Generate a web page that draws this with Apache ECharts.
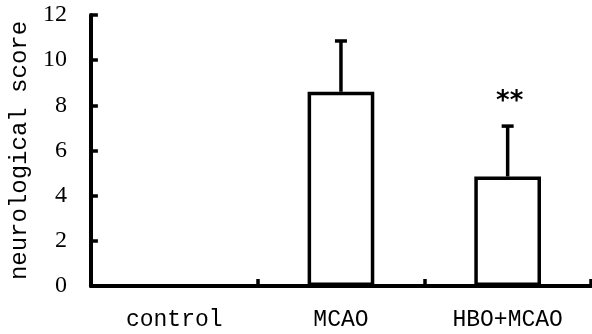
<!DOCTYPE html>
<html>
<head>
<meta charset="utf-8">
<script src="https://cdn.jsdelivr.net/npm/echarts@6/dist/echarts.min.js"></script>
<style>
html,body{margin:0;padding:0;background:#fff;}
#chart{width:592px;height:334px;}
</style>
</head>
<body>
<div id="chart"></div>
<script>
const categories = ['control', 'MCAO', 'HBO+MCAO'];
const means = [0, 8.6, 4.85];
const errors = [0, 2.25, 2.23];
const significance = ['', '', '**'];
const yMin = 0, yMax = 12, yStep = 2;
const yAxisTitle = 'neurological score';

const chart = echarts.init(document.getElementById('chart'));
const monoFont = '"Liberation Mono", "DejaVu Sans Mono", monospace';

const errData = categories.map((c, i) => [i, means[i], errors[i], significance[i]]);

chart.setOption({
  backgroundColor: '#fff',
  animation: false,
  grid: { left: 87, right: 1, top: 15, bottom: 48 },
  xAxis: {
    type: 'category',
    data: categories,
    boundaryGap: true,
    z: 4,
    axisLine: { lineStyle: { color: '#000', width: 4 } },
    axisTick: { show: true, inside: true, length: 7, lineStyle: { color: '#000', width: 3.5 } },
    axisLabel: { color: '#000', fontFamily: monoFont, fontSize: 23, margin: 22 },
    splitLine: { show: false }
  },
  yAxis: {
    type: 'value',
    min: yMin, max: yMax, interval: yStep,
    name: yAxisTitle,
    nameLocation: 'middle',
    nameGap: 52,
    z: 4,
    nameTextStyle: { color: '#000', fontFamily: monoFont, fontSize: 24 },
    axisLine: { show: true, lineStyle: { color: '#000', width: 4 } },
    axisTick: { show: true, inside: true, length: 7, lineStyle: { color: '#000', width: 3.5 } },
    axisLabel: { color: '#000', fontFamily: '"Liberation Serif", "DejaVu Serif", serif', fontSize: 24, margin: 24, padding: [6, 0, 0, 0] },
    splitLine: { show: false }
  },
  series: [
    {
      type: 'bar',
      data: means,
      barWidth: '40%',
      itemStyle: { color: '#fff', borderColor: '#000', borderWidth: 3.5 },
      z: 2
    },
    {
      type: 'custom',
      data: errData,
      encode: { x: 0, y: 1 },
      z: 5,
      renderItem: function (params, api) {
        const i = api.value(0);
        const m = api.value(1);
        const e = api.value(2);
        const sig = errData[params.dataIndex][3];
        if (!(e > 0)) return null;
        const base = api.coord([i, m]);
        const top = api.coord([i, m + e]);
        const hw = 6;
        const children = [
          { type: 'line', shape: { x1: base[0], y1: base[1], x2: top[0], y2: top[1] },
            style: { stroke: '#000', lineWidth: 3.5 } },
          { type: 'line', shape: { x1: top[0] - hw, y1: top[1], x2: top[0] + hw, y2: top[1] },
            style: { stroke: '#000', lineWidth: 3.5 } }
        ];
        if (sig) {
          children.push({
            type: 'text',
            style: {
              text: sig, x: top[0] + 2, y: top[1] - 24,
              align: 'center', verticalAlign: 'middle',
              fill: '#000', font: 'bold 26px "DejaVu Sans", sans-serif'
            }
          });
        }
        return { type: 'group', children: children };
      }
    }
  ]
});
</script>
</body>
</html>
